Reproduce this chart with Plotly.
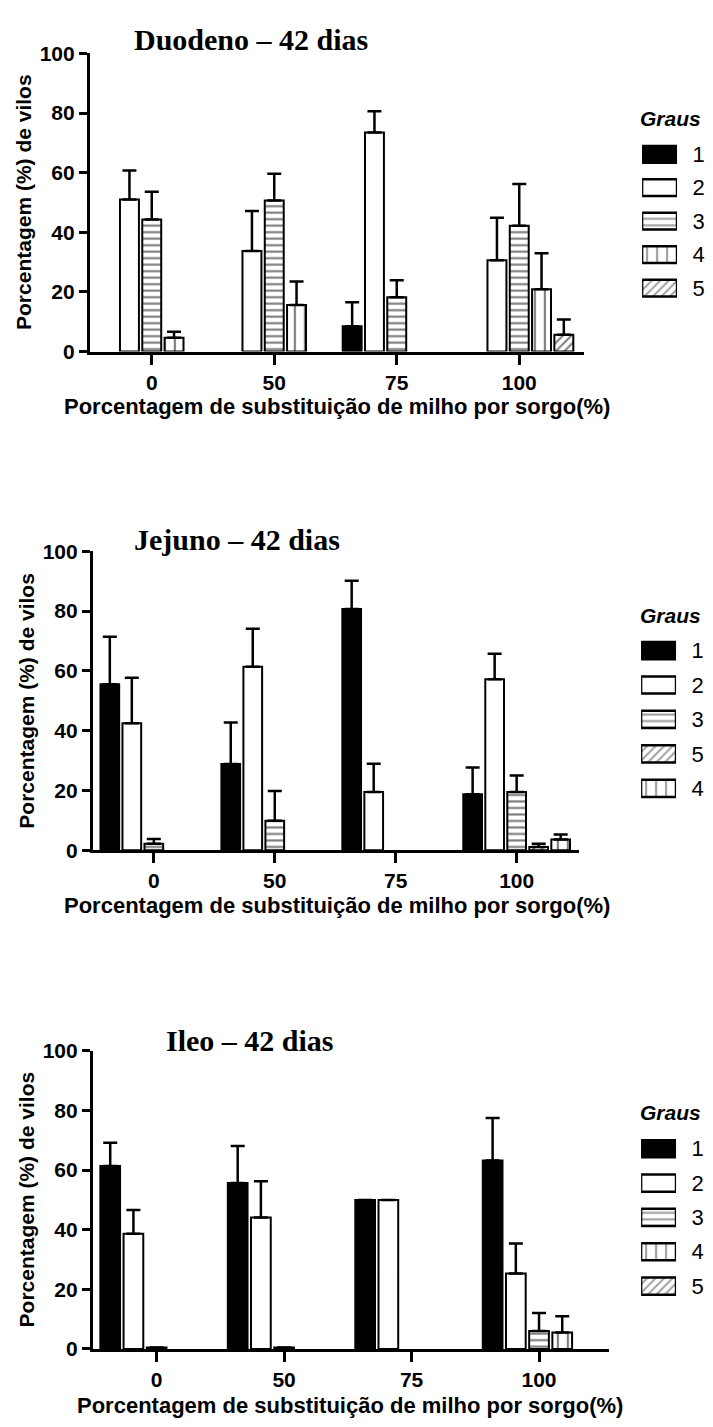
import plotly.graph_objects as go

# page is 713x1427; the html body has a default 8px margin
PAGE_W, PAGE_H = 713, 1427
OFF = 8
W, H = PAGE_W - 2 * OFF, PAGE_H - 2 * OFF

# ---------------- data ----------------
categories = ["0", "50", "75", "100"]

duo_titulo = "Duodeno – 42 dias"
duo_ordem = ["1", "2", "3", "4", "5"]
duo_g1 = [None, None, 8.5, None]
duo_e1 = [None, None, 8.0, None]
duo_g2 = [51.0, 33.7, 73.5, 30.6]
duo_e2 = [9.7, 13.4, 7.1, 14.3]
duo_g3 = [44.3, 50.7, 18.2, 42.2]
duo_e3 = [9.3, 8.9, 5.7, 14.0]
duo_g4 = [4.6, 15.6, None, 20.9]
duo_e4 = [2.0, 7.9, None, 12.1]
duo_g5 = [None, None, None, 5.6]
duo_e5 = [None, None, None, 5.1]

jej_titulo = "Jejuno – 42 dias"
jej_ordem = ["1", "2", "3", "5", "4"]
jej_g1 = [55.5, 28.8, 80.7, 18.7]
jej_e1 = [15.9, 13.9, 9.4, 9.0]
jej_g2 = [42.5, 61.4, 19.5, 57.2]
jej_e2 = [15.2, 12.7, 9.4, 8.5]
jej_g3 = [2.2, 9.9, None, 19.5]
jej_e3 = [1.6, 9.9, None, 5.5]
jej_g5 = [None, None, None, 1.1]
jej_e5 = [None, None, None, 1.1]
jej_g4 = [None, None, None, 3.6]
jej_e4 = [None, None, None, 1.7]

ile_titulo = "Ileo – 42 dias"
ile_ordem = ["1", "2", "3", "4", "5"]
ile_g1 = [61.4, 55.7, 50.0, 63.2]
ile_e1 = [7.8, 12.4, None, 14.3]
ile_g2 = [38.7, 44.1, 50.0, 25.3]
ile_e2 = [7.9, 12.2, None, 10.1]
ile_g3 = [0.5, 0.5, None, 6.0]
ile_e3 = [None, None, None, 6.1]
ile_g4 = [None, None, None, 5.5]
ile_e4 = [None, None, None, 5.5]
ile_g5 = [None, None, None, None]
ile_e5 = [None, None, None, None]

y_ticks = [0, 20, 40, 60, 80, 100]
y_title = "Porcentagem (%) de vilos"
x_title = "Porcentagem de substituição de milho por sorgo(%)"
legend_title = "Graus"

# ---------------- styles ----------------
FILL = {"1": "black", "2": "white", "3": "white", "4": "white", "5": "white"}
SHAPE = {"1": "", "2": "", "3": "-", "4": "|", "5": "/"}
PSIZE = {"1": 6, "2": 6, "3": 6.5, "4": 10, "5": 6}
PSOL = {"1": 0.2, "2": 0.2, "3": 0.33, "4": 0.22, "5": 0.35}

SANS = "Liberation Sans"
SERIF = "Liberation Serif"

fig = go.Figure()


def px_x(p):
    return (p - OFF) / W


def px_y(p):
    return 1 - (p - OFF) / H


def add_chart(idx, series, ordem, titulo, box, xrange_, title_xy, ytitle_xy, xtitle_xy,
              leg_idx, leg_box, leg_title_y):
    x0, x1, ytop, ybot = box
    xa = "x" if idx == 1 else f"x{idx}"
    ya = "y" if idx == 1 else f"y{idx}"
    for g in ordem:
        vals, errs = series[g]
        fig.add_trace(go.Bar(
            x=categories, y=vals, xaxis=xa, yaxis=ya, name=g, showlegend=False,
            marker=dict(color=FILL[g], line=dict(color="black", width=2),
                        pattern=dict(shape=SHAPE[g], size=PSIZE[g], solidity=PSOL[g],
                                     fgcolor="black", bgcolor="white")),
            error_y=dict(type="data", symmetric=False, array=errs,
                         arrayminus=[0 if e is not None else None for e in errs],
                         color="black", thickness=2.5, width=7),
        ))
    fig.layout[f"xaxis{'' if idx == 1 else idx}"] = dict(
        domain=[px_x(x0), px_x(x1)], anchor=ya, type="category",
        range=xrange_, showline=True, linecolor="black", linewidth=3,
        ticks="outside", ticklen=10, tickwidth=2.5, tickcolor="black",
        tickfont=dict(family=SANS, size=21, color="black", weight="bold"),
        showgrid=False, zeroline=False, fixedrange=True,
    )
    fig.layout[f"yaxis{'' if idx == 1 else idx}"] = dict(
        domain=[px_y(ybot), px_y(ytop)], anchor=xa, range=[0, 100],
        tickvals=y_ticks, showline=True, linecolor="black", linewidth=3,
        ticks="outside", ticklen=8, tickwidth=2.5, tickcolor="black",
        tickfont=dict(family=SANS, size=21, color="black", weight="bold"),
        showgrid=False, zeroline=False, fixedrange=True,
    )
    # titles
    fig.add_annotation(text=f"<b>{titulo}</b>", xref="paper", yref="paper",
                       x=px_x(title_xy[0]), y=px_y(title_xy[1]), showarrow=False,
                       xanchor="center", yanchor="middle",
                       font=dict(family=SERIF, size=30, color="black"))
    fig.add_annotation(text=f"<b>{y_title}</b>", xref="paper", yref="paper",
                       x=px_x(ytitle_xy[0]), y=px_y(ytitle_xy[1]), showarrow=False,
                       textangle=-90, xanchor="center", yanchor="middle",
                       font=dict(family=SANS, size=21, color="black"))
    fig.add_annotation(text=f"<b>{x_title}</b>", xref="paper", yref="paper",
                       x=px_x(xtitle_xy[0]), y=px_y(xtitle_xy[1]), showarrow=False,
                       xanchor="center", yanchor="middle",
                       font=dict(family=SANS, size=22, color="black"))
    # legend drawn as a small bar axis
    lx0, lx1, ly0, ly1 = leg_box
    lxa = f"x{leg_idx}"
    lya = f"y{leg_idx}"
    fig.add_trace(go.Bar(
        x=[1] * len(ordem), y=ordem, orientation="h", xaxis=lxa, yaxis=lya,
        width=0.5, showlegend=False, hoverinfo="skip",
        marker=dict(color=[FILL[g] for g in ordem], line=dict(color="black", width=2.5),
                    pattern=dict(shape=[SHAPE[g] for g in ordem],
                                 size=[PSIZE[g] for g in ordem],
                                 solidity=[PSOL[g] for g in ordem],
                                 fgcolor="black", bgcolor="white")),
    ))
    fig.layout[f"xaxis{leg_idx}"] = dict(
        domain=[px_x(lx0), px_x(lx1)], anchor=lya, range=[0, 1], visible=False,
        fixedrange=True)
    fig.layout[f"yaxis{leg_idx}"] = dict(
        domain=[px_y(ly1), px_y(ly0)], anchor=lxa, type="category",
        range=[len(ordem) - 0.5, -0.5], side="right", showline=False,
        showgrid=False, zeroline=False, ticks="outside", ticklen=10,
        tickcolor="rgba(0,0,0,0)",
        tickfont=dict(family=SANS, size=22, color="black"), fixedrange=True)
    fig.add_annotation(text=f"<b><i>{legend_title}</i></b>", xref="paper", yref="paper",
                       x=px_x(671), y=px_y(leg_title_y), showarrow=False,
                       xanchor="center", yanchor="middle",
                       font=dict(family=SANS, size=21, color="black"))


add_chart(1,
          {"1": (duo_g1, duo_e1), "2": (duo_g2, duo_e2), "3": (duo_g3, duo_e3),
           "4": (duo_g4, duo_e4), "5": (duo_g5, duo_e5)},
          duo_ordem, duo_titulo, (90, 585, 42, 345), [-0.505, 3.53],
          (251, 28), (24, 193), (337, 401), 4, (643, 678, 127.5, 297.5), 108)

add_chart(2,
          {"1": (jej_g1, jej_e1), "2": (jej_g2, jej_e2), "3": (jej_g3, jej_e3),
           "5": (jej_g5, jej_e5), "4": (jej_g4, jej_e4)},
          jej_ordem, jej_titulo, (93, 580, 548, 852), [-0.504, 3.517],
          (237, 536), (27, 700), (337, 908), 5, (642, 677, 631.5, 806.5), 613)

add_chart(3,
          {"1": (ile_g1, ile_e1), "2": (ile_g2, ile_e2), "3": (ile_g3, ile_e3),
           "4": (ile_g4, ile_e4), "5": (ile_g5, ile_e5)},
          ile_ordem, ile_titulo, (93, 610, 1056, 1359), [-0.5, 3.55],
          (250, 1045), (26, 1207), (350, 1416), 6, (642, 677, 1138, 1312.5), 1119)

fig.update_layout(
    width=W, height=H, margin=dict(l=0, r=0, t=0, b=0),
    paper_bgcolor="white", plot_bgcolor="white",
    barmode="group", bargap=0.09, bargroupgap=0.15,
    showlegend=False,
)

fig.write_html("out.html")
